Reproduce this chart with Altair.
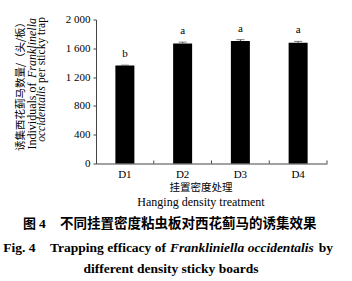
import altair as alt
import pandas as pd

categories = ["D1", "D2", "D3", "D4"]
means = [1360, 1668, 1700, 1678]
errors = [6, 18, 20, 18]
letters = ["b", "a", "a", "a"]
y_ticks = [0, 400, 800, 1200, 1600, 2000]

ytitle_cn = "诱集西花蓟马数量/（头/板）"
ytitle_en1a = "Individuals of"
ytitle_en1b = "Franklinella"
ytitle_en2a = "occidentalis"
ytitle_en2b = "per sticky trap"
xtitle_cn = "挂置密度处理"
xtitle_en = "Hanging density treatment"
cap_cn_a = "图"
cap_cn_num = "4"
cap_cn_b = "不同挂置密度粘虫板对西花蓟马的诱集效果"
cap_en_a = "Fig. 4"
cap_en_b = "Trapping efficacy of"
cap_en_c = "Frankliniella occidentalis"
cap_en_d = "by"
cap_en_e = "different density sticky boards"

SERIF = "Liberation Serif"
CJK = "Noto Sans CJK SC"
AX = "#444444"

df = pd.DataFrame({"cat": categories, "mean": means, "err": errors, "letter": letters})
df["top"] = df["mean"] + df["err"]

xaxis = alt.Axis(title=None, labelAngle=0, labelFont=SERIF, labelFontSize=11,
                 labelColor="black", ticks=False, domainColor=AX, labelPadding=5)
xscale = alt.Scale(paddingInner=0, paddingOuter=0)
yaxis = alt.Axis(title=None, values=y_ticks, grid=False, tickSize=3, tickColor=AX,
                 domainColor=AX, labelFont=SERIF, labelFontSize=11, labelColor="black",
                 labelPadding=3, labelOverlap=False, labelBound=False,
                 labelExpr="replace(format(datum.value, ','), ',', ' ')")
yscale = alt.Scale(domain=[0, 2000], nice=False)


def X(**kw):
    return alt.X("cat:N", sort=categories, scale=xscale, axis=xaxis, **kw)


def Y(field):
    return alt.Y(field, scale=yscale, axis=yaxis)


base = alt.Chart(df)
bars = base.mark_bar(size=19, color="black").encode(x=X(), y=Y("mean:Q"))
err = base.mark_rule(color=AX, strokeWidth=1).encode(
    x=X(), y=Y("mean:Q"), y2="top:Q")
caps = base.mark_tick(color=AX, size=8, thickness=1).encode(x=X(), y=Y("top:Q"))
lett = base.mark_text(dy=-11, font=SERIF, fontSize=11, baseline="middle", color="black").encode(
    x=X(), y=Y("top:Q"), text="letter:N")
bticks = base.mark_rule(color=AX, strokeWidth=1).encode(
    x=X(bandPosition=1), y=alt.value(144), y2=alt.value(141))


def label(text, x, y, size, font=SERIF, weight="normal", style="normal",
          align="left", angle=0):
    return alt.Chart(pd.DataFrame({"t": [text]})).mark_text(
        align=align, baseline="middle", font=font, fontSize=size,
        fontWeight=weight, fontStyle=style, angle=angle, color="black",
    ).encode(text="t:N", x=alt.value(x), y=alt.value(y))


annots = [
    label(ytitle_cn, -75, 64.5, 10.5, font=CJK, align="center", angle=270),
    label(ytitle_en1a, -64, 96.5, 12, align="center", angle=270),
    label(ytitle_en1b, -64, 28.5, 12, style="italic", align="center", angle=270),
    label(ytitle_en2a, -54, 94.5, 11.5, style="italic", align="center", angle=270),
    label(ytitle_en2b, -54, 30.5, 11.5, align="center", angle=270),
    label(xtitle_cn, 105, 168, 10.5, font=CJK, align="center"),
    label(xtitle_en, 105, 182.5, 12, align="center"),
    label(cap_cn_a, -73, 204.5, 13, font=CJK, weight="bold"),
    label(cap_cn_num, -57, 204.5, 13.5, weight="bold"),
    label(cap_cn_b, -36, 204.5, 13.5, font=CJK, weight="bold"),
    label(cap_en_a, -92.7, 228.5, 13.5, weight="bold"),
    label(cap_en_b, -46, 228.5, 13.5, weight="bold"),
    label(cap_en_c, 74, 228.5, 13.5, weight="bold", style="italic"),
    label(cap_en_d, 237, 228.5, 13.5, weight="bold", align="right"),
    label(cap_en_e, 75, 249.5, 13.5, weight="bold", align="center"),
]

chart = alt.layer(bars, err, caps, lett, bticks, *annots).properties(
    width=231, height=144,
    padding={"left": 96, "top": 19.5, "right": 25, "bottom": 117.5},
    autosize=alt.AutoSizeParams(type="none"),
    background="white",
).configure_view(stroke=None).configure_axisY(labelOverlap=False)

chart.save("out.html", embed_options={"renderer": "svg", "actions": False})
